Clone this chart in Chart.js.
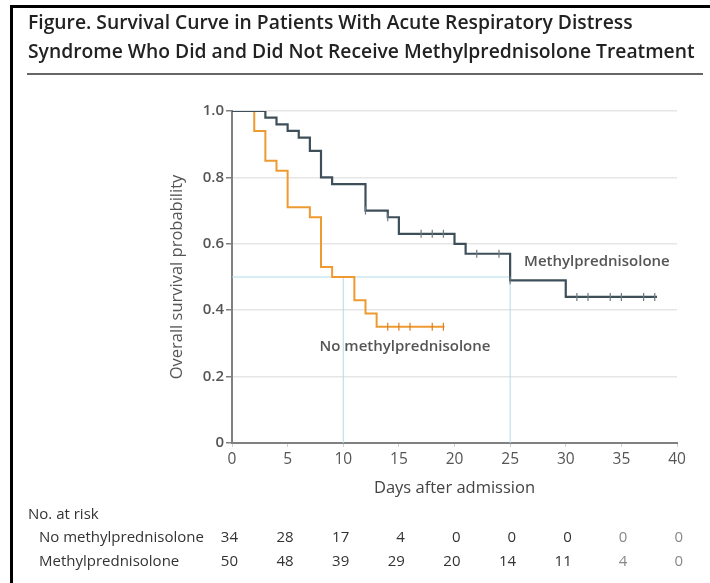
<!DOCTYPE html>
<html>
<head>
<meta charset="utf-8">
<script src="https://cdn.jsdelivr.net/npm/chart.js@4.4.1/dist/chart.umd.min.js"></script>
<style>
  html, body { margin: 0; padding: 0; background: #fff; }
  #wrap { position: relative; width: 710px; height: 583px; overflow: hidden; background: #fff; }
  #c { position: absolute; left: 0; top: 0; }
  #title { position: absolute; left: 28px; top: 7px; font-family: "Open Sans", sans-serif; font-weight: 600;
           font-size: 19.3px; line-height: 29px; color: #222; letter-spacing: 0; white-space: nowrap; }
  #rule { position: absolute; left: 27px; top: 73px; width: 676px; height: 2px; background: #666; }
  #bl { position: absolute; left: 10px; top: 5px; width: 3px; height: 578px; background: #000; }
  #bt { position: absolute; left: 10px; top: 5px; width: 700px; height: 3px; background: #000; }
</style>
</head>
<body>
<div id="wrap">
  <canvas id="c" width="710" height="583"></canvas>
  <div id="bl"></div><div id="bt"></div>
  <div id="title">Figure. Survival Curve in Patients With Acute Respiratory Distress<br>Syndrome Who Did and Did Not Receive Methylprednisolone Treatment</div>
  <div id="rule"></div>
</div>
<script>
// ---- data ----
const mpDays   = [0, 3, 4, 5, 6, 7, 8, 9, 12, 14, 15, 20, 21, 25, 30, 38.2];
const mpSurv   = [1, 0.98, 0.96, 0.94, 0.92, 0.88, 0.80, 0.78, 0.70, 0.68, 0.63, 0.60, 0.57, 0.49, 0.44, 0.44];
const noDays   = [0, 2, 3, 4, 5, 7, 8, 9, 11, 12, 13, 19.1];
const noSurv   = [1, 0.94, 0.85, 0.82, 0.71, 0.68, 0.53, 0.50, 0.43, 0.39, 0.35, 0.35];
const mpCensDays = [12, 14, 17, 18, 19, 22, 24, 25, 31, 32, 34, 35, 37, 38];
const mpCensSurv = [0.70, 0.68, 0.63, 0.63, 0.63, 0.57, 0.57, 0.49, 0.44, 0.44, 0.44, 0.44, 0.44, 0.44];
const noCensDays = [14, 15, 16, 18, 19];
const noCensSurv = [0.35, 0.35, 0.35, 0.35, 0.35];
const medianX = [0, 10, 25];      // median survival guide (days)
const medianY = [0, 0.5, 0.49];
const xTicks = [0, 5, 10, 15, 20, 25, 30, 35, 40];
const yTicks = [0, 0.2, 0.4, 0.6, 0.8, 1.0];
const riskDays = [0, 5, 10, 15, 20, 25, 30, 35, 40];
const riskNo = [34, 28, 17, 4, 0, 0, 0, 0, 0];
const riskMP = [50, 48, 39, 29, 20, 14, 11, 4, 0];
const groupNames = ["No methylprednisolone", "Methylprednisolone"];

const pts = (xs, ys) => xs.map((x, i) => ({x: x, y: ys[i]}));

const FONT = '"Open Sans", sans-serif';
const DARK = '#3e4f59';
const ORANGE = '#ee9a30';
const BLUE = '#b3dbeb';

const overlay = {
  id: 'overlay',
  afterDraw(chart) {
    const ctx = chart.ctx;
    const xs = chart.scales.x, ys = chart.scales.y;
    ctx.save();
    // curve labels
    ctx.font = '600 15px ' + FONT;
    ctx.fillStyle = '#555';
    ctx.textAlign = 'center';
    ctx.textBaseline = 'middle';
    ctx.fillText(groupNames[1], xs.getPixelForValue(32.8), ys.getPixelForValue(0.546));
    ctx.fillText(groupNames[0], xs.getPixelForValue(15.55), ys.getPixelForValue(0.29));
    // risk table
    ctx.font = '500 15px ' + FONT;
    ctx.fillStyle = '#333';
    ctx.textAlign = 'left';
    ctx.fillText('No. at risk', 28, 515);
    ctx.fillText(groupNames[0], 39, 538);
    ctx.fillText(groupNames[1], 39, 562);
    ctx.textAlign = 'right';
    riskDays.forEach((d, i) => {
      const px = xs.getPixelForValue(d) + 6;
      ctx.fillStyle = d >= 35 ? '#888' : '#333';
      ctx.fillText(String(riskNo[i]), px, 538);
      ctx.fillText(String(riskMP[i]), px, 562);
    });
    ctx.restore();
  }
};

new Chart(document.getElementById('c'), {
  type: 'line',
  data: {
    datasets: [
      { label: 'median-h', data: pts([medianX[0], medianX[2]], [0.5, 0.5]), borderColor: BLUE, borderWidth: 1, pointRadius: 0, order: 5 },
      { label: 'median-v1', data: pts([medianX[1], medianX[1]], [medianY[0], medianY[1]]), borderColor: BLUE, borderWidth: 1, pointRadius: 0, order: 5 },
      { label: 'median-v2', data: pts([medianX[2], medianX[2]], [medianY[0], medianY[2]]), borderColor: BLUE, borderWidth: 1, pointRadius: 0, order: 5 },
      { label: groupNames[0], data: pts(noDays, noSurv), stepped: true, borderColor: ORANGE, borderWidth: 2, pointRadius: 0, order: 2 },
      { label: groupNames[1], data: pts(mpDays, mpSurv), stepped: true, borderColor: DARK, borderWidth: 2.2, pointRadius: 0, order: 1 },
      { label: 'cens-no', data: pts(noCensDays, noCensSurv), showLine: false, pointStyle: 'line', rotation: 90, pointRadius: 4,
        borderColor: '#d9802a', pointBorderWidth: 1.2, order: 0 },
      { label: 'cens-mp', data: pts(mpCensDays, mpCensSurv), showLine: false, pointStyle: 'line', rotation: 90, pointRadius: 4,
        borderColor: '#6b7a82', pointBorderWidth: 1.2, order: 0 }
    ]
  },
  options: {
    responsive: false,
    animation: false,
    events: [],
    layout: { padding: { left: 160, top: 111, right: 33, bottom: 85 } },
    plugins: { legend: { display: false }, tooltip: { enabled: false } },
    scales: {
      x: {
        type: 'linear', min: 0, max: 40,
        afterBuildTicks: s => { s.ticks = xTicks.map(v => ({value: v})); },
        afterFit: s => { s.height = 55; },
        grid: { drawOnChartArea: false, drawTicks: true, tickLength: 4, tickColor: '#d0d0d0' },
        border: { color: '#808080', width: 2 },
        ticks: { color: '#555', font: { family: FONT, size: 15.5, weight: '500' }, padding: 3, maxRotation: 0 },
        title: { display: true, text: 'Days after admission', color: '#444', font: { family: FONT, size: 16.5, weight: '500' }, padding: { top: 0, bottom: 0 } }
      },
      y: {
        type: 'linear', min: 0, max: 1,
        afterBuildTicks: s => { s.ticks = yTicks.map(v => ({value: v})); },
        afterFit: s => { s.width = 72; },
        grid: { color: '#e6e6e6', lineWidth: 1.5, drawTicks: true, tickLength: 6, tickColor: '#808080' },
        border: { color: '#808080', width: 2 },
        ticks: { color: '#555', font: { family: FONT, size: 15, weight: '600' }, padding: 2,
                 callback: v => v === 0 ? '0' : v.toFixed(1) },
        title: { display: true, text: 'Overall survival probability', color: '#555', font: { family: FONT, size: 16.5, weight: '500' }, padding: { top: 7, bottom: 0 } }
      }
    }
  },
  plugins: [overlay]
});
</script>
</body>
</html>
